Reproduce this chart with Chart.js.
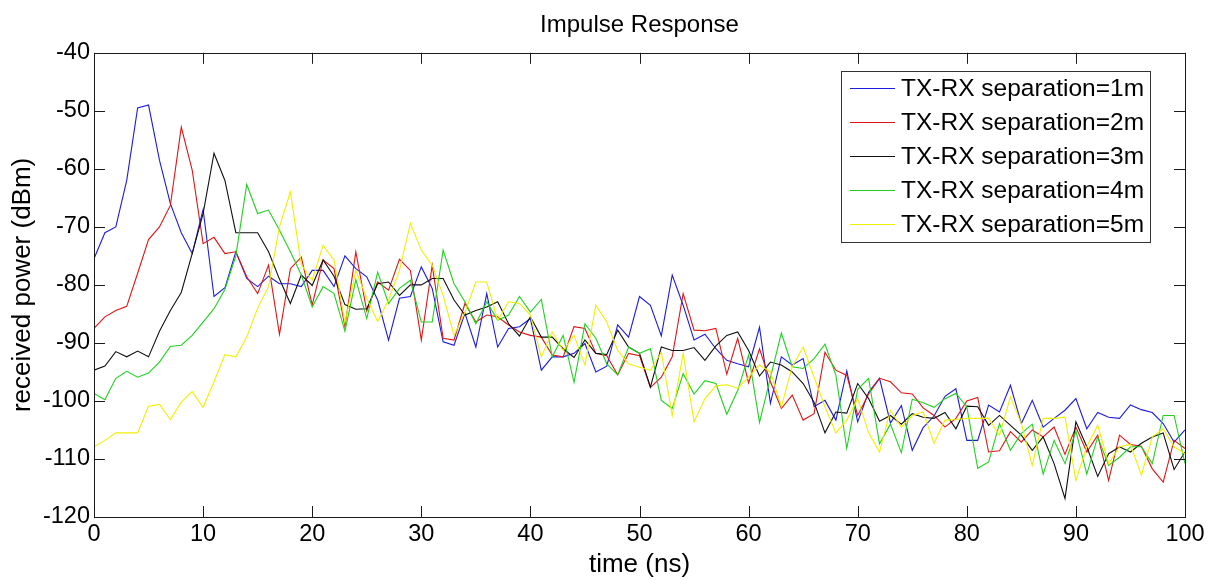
<!DOCTYPE html>
<html><head><meta charset="utf-8">
<script src="https://cdn.jsdelivr.net/npm/chart.js@4.4.1/dist/chart.umd.min.js"></script>
<style>html,body{margin:0;padding:0;background:#fff;overflow:hidden}canvas{display:block}</style>
</head><body>
<canvas id="c" width="1209" height="580"></canvas>
<script>
const timeNs = [0,1,2,3,4,5,6,7,8,9,10,11,12,13,14,15,16,17,18,19,20,21,22,23,24,25,26,27,28,29,30,31,32,33,34,35,36,37,38,39,40,41,42,43,44,45,46,47,48,49,50,51,52,53,54,55,56,57,58,59,60,61,62,63,64,65,66,67,68,69,70,71,72,73,74,75,76,77,78,79,80,81,82,83,84,85,86,87,88,89,90,91,92,93,94,95,96,97,98,99,100];
const xTicks = [0,10,20,30,40,50,60,70,80,90,100];
const yTicks = [-120,-110,-100,-90,-80,-70,-60,-50,-40];
const seriesLabels = ['TX-RX separation=1m','TX-RX separation=2m','TX-RX separation=3m','TX-RX separation=4m','TX-RX separation=5m'];
const sep1m = [-75.5,-71,-70,-62,-49.5,-49,-58.5,-66,-71,-74.6,
  -67,-82,-80.5,-74.3,-78.9,-80.3,-78.5,-79.8,-79.8,-80.3,
  -77.5,-77.5,-80.3,-75,-77.2,-78.6,-82.6,-89.5,-82.3,-82,
  -76.9,-80.6,-89.8,-90.4,-84.9,-90.7,-81.5,-90.7,-87.5,-87.2,
  -85.8,-94.7,-92.4,-92.4,-91.8,-90.1,-95,-94,-86.9,-89,
  -82,-83.5,-88.8,-78.3,-83.5,-89.5,-88.5,-91,-93,-93.6,
  -94.1,-87.3,-100.4,-92.4,-93.8,-92.7,-101,-99.9,-103.3,-94.8,
  -103.6,-98.5,-96.1,-103.8,-100.8,-108.5,-104.6,-102.6,-99.2,-97.9,
  -106.8,-106.8,-100.7,-101.9,-97.3,-103.9,-99.9,-104.5,-103,-101.6,
  -99.6,-104.8,-102,-102.8,-103,-100.7,-101.5,-102,-103.9,-107.1,-105];
const sep2m = [-87.5,-85.5,-84.4,-83.7,-78,-72.2,-70,-66.3,-52.8,-60.2,
  -72.9,-71.8,-74.6,-74.3,-78.6,-81.5,-76.6,-88.5,-77.2,-75.2,
  -83.5,-75.7,-77.2,-87.2,-74.3,-84.5,-79.5,-80.9,-75.6,-77.5,
  -89.5,-76.6,-89.2,-89.5,-83.2,-86.4,-85.2,-85.5,-86.9,-88.1,
  -88.7,-89,-92.1,-92.4,-87.2,-87.5,-91.8,-92.2,-95.5,-91.8,
  -92.2,-97.7,-95.9,-92.4,-81.5,-87.8,-87.9,-87.5,-95.4,-89.2,
  -96.9,-91,-96.7,-101.3,-99,-103.3,-102.2,-91.6,-94.7,-95.6,
  -102.5,-98.8,-96.1,-96.7,-98.6,-98.8,-101.2,-102.5,-104.5,-103,
  -100,-99.4,-108.8,-108.6,-105.3,-107.1,-105,-106.2,-104.5,-109.2,
  -104.5,-108.8,-105.9,-113.7,-105.9,-107.5,-107.8,-111.7,-114,-106.8,-108.2];
const sep3m = [-94.7,-94,-91.5,-92.4,-91.4,-92.4,-88,-84.4,-81.3,-74.6,
  -67.7,-57.3,-62,-71,-71,-71,-74.3,-79,-83.2,-78.3,
  -80.1,-75.7,-78.5,-83.4,-84.2,-84.1,-79.8,-79.5,-81.8,-80,
  -80,-78.9,-78.9,-82.6,-85.2,-84.4,-83.8,-82.9,-86.7,-88.8,
  -85.5,-89,-89,-91,-92.5,-89.5,-91.8,-92,-87.8,-90.7,
  -91.8,-97.6,-90.7,-91.3,-91.3,-90.8,-93,-90.5,-88.7,-88.1,
  -91.3,-95.7,-93.3,-93.8,-95,-97,-100.2,-105.5,-101.9,-102.1,
  -97,-99.6,-103.5,-102.5,-104,-102.2,-102.8,-103,-102,-104.8,
  -100.9,-101,-104.2,-102.5,-104.2,-105.9,-108.5,-106.2,-110.8,-116.8,
  -103.6,-107.9,-113,-109.1,-107.9,-108.8,-107.3,-106.2,-105.5,-111.8,-108.8];
const sep4m = [-98.7,-99.8,-96.1,-94.9,-95.9,-95.2,-93.3,-90.6,-90.4,-88.7,
  -86.4,-84.1,-80.8,-75,-62.7,-67.7,-67.1,-70.6,-74.3,-78.3,
  -83.8,-80.3,-81.5,-88,-79.1,-85.8,-77.8,-83.2,-80.6,-79.2,
  -86.4,-86.4,-74,-79.8,-82.9,-86.7,-82.9,-86.1,-85.2,-82,
  -84.7,-82.5,-92.4,-88.7,-96.8,-86.7,-89.2,-93.6,-95.5,-90.7,
  -91.8,-91,-99.9,-101.3,-95.3,-98.8,-96.5,-97,-102.3,-98.2,
  -92.1,-103.7,-96,-88.3,-94.1,-94.4,-92.7,-90.2,-95.6,-108.2,
  -98,-96.1,-107.4,-104,-108.9,-99.7,-100.3,-101.1,-99.6,-98.7,
  -101,-111.6,-110.5,-103.9,-108.5,-105.6,-104,-112.6,-106.8,-110.8,
  -105.2,-112.6,-106.2,-111.1,-109.7,-107.9,-107.9,-110.8,-102.5,-102.5,-110.8];
const sep5m = [-107.9,-106.8,-105.5,-105.5,-105.5,-100.9,-100.6,-103.2,-100.2,-98.4,
  -101.1,-96.7,-92,-92.4,-89,-84,-80.3,-70,-64,-76.5,
  -79.2,-73.2,-75.7,-86.5,-77.5,-82.3,-86.3,-82.6,-77.5,-69.4,
  -74,-76.6,-81.8,-88.7,-84.7,-79.5,-79.5,-86.1,-82.9,-83.2,
  -85.2,-92.4,-88.1,-91.3,-88.7,-93.8,-83.5,-86.4,-91.3,-93.6,
  -94.2,-94.7,-91.6,-102.5,-91.8,-103.6,-99.6,-97.4,-97.2,-97.8,
  -95.9,-93.8,-95,-101,-94.1,-90.7,-95.9,-101,-105.5,-103.3,
  -99.6,-105.5,-108.8,-101.6,-104.5,-102.5,-101.9,-107.3,-103.3,-103.2,
  -103,-103,-103,-105.9,-99.3,-103.9,-111.1,-103,-103,-102.8,
  -113.7,-107.9,-104.2,-110.8,-107.9,-107.5,-112.8,-106.2,-104.8,-107.9,-109.1];
const seriesValues = [sep1m, sep2m, sep3m, sep4m, sep5m];
const seriesColors = ['#1c1cdc','#e01414','#101010','#1ed21e','#f0f000'];

const FONT = "'Liberation Sans', Arial, Helvetica, sans-serif";

const matlabAxes = {
  id: 'matlabAxes',
  afterDatasetsDraw(chart) {
    const {ctx, chartArea: a, scales: {x, y}} = chart;
    const L = 11;
    ctx.save();
    ctx.strokeStyle = '#1a1a1a';
    ctx.lineWidth = 1;
    ctx.beginPath();
    x.ticks.forEach(t => {
      const px = Math.round(x.getPixelForValue(t.value)) + 0.5;
      ctx.moveTo(px, a.bottom); ctx.lineTo(px, a.bottom - L);
      ctx.moveTo(px, a.top); ctx.lineTo(px, a.top + L);
    });
    y.ticks.forEach(t => {
      const py = Math.round(y.getPixelForValue(t.value)) + 0.5;
      ctx.moveTo(a.left, py); ctx.lineTo(a.left + L, py);
      ctx.moveTo(a.right, py); ctx.lineTo(a.right - L, py);
    });
    ctx.stroke();
    ctx.strokeRect(Math.round(a.left) + 0.5, Math.round(a.top) + 0.5,
                   Math.round(a.right - a.left), Math.round(a.bottom - a.top));
    ctx.restore();
  }
};

const boxLegend = {
  id: 'boxLegend',
  afterDraw(chart) {
    const {ctx, chartArea: a} = chart;
    const right = a.right - 35, top = a.top + 18;
    const w = 309, h = 171;
    const left = right - w;
    ctx.save();
    ctx.fillStyle = '#fff';
    ctx.fillRect(left, top, w, h);
    ctx.strokeStyle = '#333';
    ctx.lineWidth = 1;
    ctx.strokeRect(Math.round(left) + 0.5, Math.round(top) + 0.5, w, h);
    ctx.font = '24.5px ' + FONT;
    ctx.textBaseline = 'middle';
    seriesLabels.forEach((label, i) => {
      const cy = Math.round(top + 17.5 + i * 33.8) + 0.5;
      ctx.beginPath();
      ctx.strokeStyle = seriesColors[i];
      ctx.lineWidth = 1.2;
      ctx.moveTo(left + 9, cy); ctx.lineTo(left + 54, cy);
      ctx.stroke();
      ctx.fillStyle = '#000';
      ctx.fillText(label, left + 60, cy + 1);
    });
    ctx.restore();
  }
};

const datasets = seriesValues.map((vals, i) => ({
  label: seriesLabels[i],
  data: timeNs.map((t, k) => ({x: t, y: vals[k]})),
  borderColor: seriesColors[i],
  backgroundColor: seriesColors[i],
  borderWidth: 1.1,
  pointRadius: 0,
  tension: 0,
  fill: false,
  order: seriesValues.length - i
}));

new Chart(document.getElementById('c'), {
  type: 'line',
  data: { datasets },
  options: {
    responsive: false,
    animation: false,
    devicePixelRatio: 1,
    layout: { padding: { left: 0, right: 24, top: 0, bottom: 0 } },
    plugins: {
      legend: { display: false },
      tooltip: { enabled: false },
      title: {
        display: true,
        fullSize: false,
        text: 'Impulse Response',
        color: '#000',
        font: { family: FONT, size: 24, weight: 'normal' },
        padding: { top: 11, bottom: 13 }
      }
    },
    scales: {
      x: {
        type: 'linear', min: 0, max: 100,
        afterBuildTicks: s => { s.ticks = xTicks.map(v => ({value: v})); },
        ticks: { color: '#000', font: { family: FONT, size: 23.5 }, padding: 3, maxRotation: 0, autoSkip: false },
        grid: { display: false, drawTicks: false },
        border: { display: false },
        title: { display: true, text: 'time (ns)', color: '#000', font: { family: FONT, size: 26 }, padding: { top: 0, bottom: 0 } },
        afterFit: s => { s.height = 63; }
      },
      y: {
        type: 'linear', min: -120, max: -40,
        afterBuildTicks: s => { s.ticks = yTicks.map(v => ({value: v})); },
        ticks: { color: '#000', font: { family: FONT, size: 23.5 }, padding: 4, autoSkip: false },
        grid: { display: false, drawTicks: false },
        border: { display: false },
        title: { display: true, text: 'received power (dBm)', color: '#000', font: { family: FONT, size: 26 }, padding: { top: 7, bottom: 0 } },
        afterFit: s => { s.width = 94; }
      }
    }
  },
  plugins: [matlabAxes, boxLegend]
});
</script>
</body></html>
